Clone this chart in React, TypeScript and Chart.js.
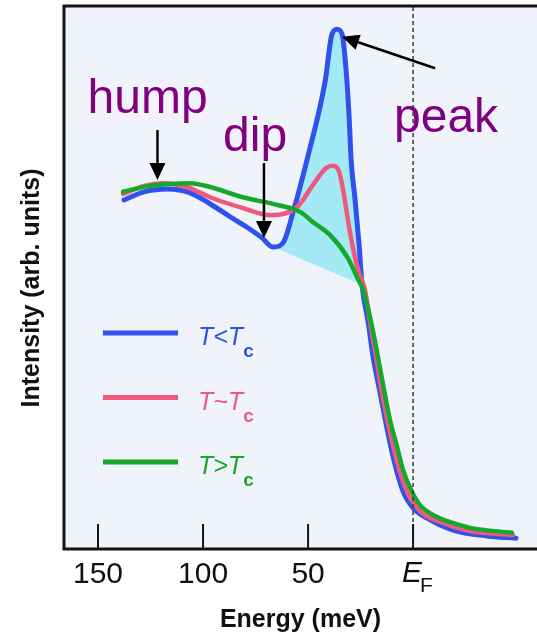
import { useEffect, useRef } from "react";
import { Chart, registerables } from "chart.js";

Chart.register(...registerables);

// Binding energy below E_F (meV) and spectral intensity (arb. units)
const energyBelowTc = [137.6, 128.1, 116.7, 106.2, 96.7, 87.1, 77.6, 71.9, 66.7, 61.9, 57.1, 50.5, 41.9, 38.6, 36.2, 33.8, 31.9, 30.5, 29.5, 27.6, 25.7, 24.3, 21.4, 19.0, 15.7, 12.9, 9.5, 4.8, 0.0, -6.7, -19.0, -35.2, -49.0];
const intensityBelowTc = [64.4, 65.9, 66.4, 65.7, 63.7, 61.3, 59.0, 57.4, 55.7, 56.5, 62.2, 71.8, 86.2, 95.0, 95.9, 95.0, 88.4, 80.1, 71.8, 64.4, 56.1, 48.7, 41.9, 35.4, 28.8, 23.2, 17.0, 10.7, 7.6, 5.7, 3.5, 2.4, 2.0];

const energyNearTc = [138.1, 128.1, 119.0, 106.2, 96.7, 81.0, 68.1, 61.9, 55.2, 47.6, 41.4, 38.1, 35.2, 33.3, 30.0, 26.2, 22.9, 20.5, 17.6, 14.8, 11.9, 8.1, 3.3, -3.3, -12.9, -27.1, -47.6];
const intensityNearTc = [65.5, 67.0, 67.5, 66.6, 64.9, 62.9, 61.6, 61.8, 63.1, 67.2, 70.3, 70.7, 69.6, 66.2, 58.3, 51.5, 47.8, 41.9, 35.4, 28.8, 23.2, 16.8, 10.9, 7.0, 5.0, 3.3, 2.6];

const energyAboveTc = [138.1, 125.2, 106.2, 96.7, 81.0, 64.8, 53.8, 47.6, 39.5, 31.4, 26.7, 23.8, 20.0, 16.7, 13.8, 11.0, 7.6, 4.8, 0.5, -3.3, -11.4, -19.0, -27.1, -47.1];
const intensityAboveTc = [65.9, 67.0, 67.5, 66.8, 64.9, 63.5, 62.2, 60.3, 57.9, 53.9, 50.2, 47.8, 41.9, 35.4, 29.3, 23.8, 18.8, 14.6, 10.5, 8.1, 5.9, 4.8, 3.9, 3.0];

// Quasiparticle weight: region under the T<Tc curve between the dip and the leading edge
const shadeFrom = 66.7;
const shadeTo = 24.3;

// Axis ticks (meV) and their labels; "_" marks a subscript
const tickValues = [150, 100, 50, 0];
const tickLabels = ["150", "100", "50", "E_F"];
const fermiEnergy = 0;

const seriesLabels = ["T<T_c", "T~T_c", "T>T_c"];

// Annotations in data units (energy, intensity)
const wordLabels = ["hump", "dip", "peak"];
const wordEnergy = [126.4, 75.2, -15.7];
const wordIntensity = [80.4, 73.4, 76.9];
const arrowFromEnergy = [121.7, 71.0, -10.5];
const arrowFromIntensity = [77.3, 71.2, 88.7];
const arrowToEnergy = [121.7, 71.0, 33.8];
const arrowToIntensity = [68.1, 57.4, 94.5];

const BLUE = "#3052ec";
const PINK = "#f0587e";
const GREEN = "#16a82a";
const SHADE = "#a4e9f6";
const PURPLE = "#800080";
const FONT = "'Liberation Sans', Arial, Helvetica, sans-serif";

const toPoints = (e: number[], v: number[]) => e.map((x, i) => ({ x, y: v[i] }));

function splitSub(text: string) {
  const i = text.indexOf("_");
  return i < 0 ? { main: text, sub: "" } : { main: text.slice(0, i), sub: text.slice(i + 1) };
}

function drawArrow(ctx: CanvasRenderingContext2D, x1: number, y1: number, x2: number, y2: number) {
  const ang = Math.atan2(y2 - y1, x2 - x1);
  const head = 17;
  const half = 8;
  const bx = x2 - head * Math.cos(ang);
  const by = y2 - head * Math.sin(ang);
  ctx.beginPath();
  ctx.moveTo(x1, y1);
  ctx.lineTo(bx, by);
  ctx.stroke();
  ctx.beginPath();
  ctx.moveTo(x2, y2);
  ctx.lineTo(bx + half * Math.sin(ang), by - half * Math.cos(ang));
  ctx.lineTo(bx - half * Math.sin(ang), by + half * Math.cos(ang));
  ctx.closePath();
  ctx.fill();
}

const decor = {
  id: "decor",
  beforeDraw(chart: any) {
    const { ctx, chartArea: a } = chart;
    ctx.save();
    ctx.fillStyle = "#ffffff";
    ctx.fillRect(0, 0, chart.width, chart.height);
    ctx.fillStyle = "#f0f4fa";
    ctx.fillRect(a.left, a.top, a.right - a.left, a.bottom - a.top);
    ctx.restore();
  },
  afterDatasetsDraw(chart: any) {
    const { ctx, chartArea: a, scales } = chart;
    const x = scales.x;
    const y = scales.y;
    ctx.save();

    // Fermi level marker
    const xf = x.getPixelForValue(fermiEnergy);
    ctx.strokeStyle = "#3a3a3a";
    ctx.lineWidth = 1.5;
    ctx.setLineDash([4, 3]);
    ctx.beginPath();
    ctx.moveTo(xf, a.top);
    ctx.lineTo(xf, a.bottom);
    ctx.stroke();
    ctx.setLineDash([]);

    // Feature labels and arrows
    ctx.fillStyle = PURPLE;
    ctx.font = `48px ${FONT}`;
    ctx.textAlign = "center";
    ctx.textBaseline = "alphabetic";
    wordLabels.forEach((w, i) => {
      ctx.fillText(w, x.getPixelForValue(wordEnergy[i]), y.getPixelForValue(wordIntensity[i]));
    });
    ctx.strokeStyle = "#000";
    ctx.fillStyle = "#000";
    ctx.lineWidth = 2.5;
    arrowFromEnergy.forEach((_, i) => {
      drawArrow(
        ctx,
        x.getPixelForValue(arrowFromEnergy[i]),
        y.getPixelForValue(arrowFromIntensity[i]),
        x.getPixelForValue(arrowToEnergy[i]),
        y.getPixelForValue(arrowToIntensity[i])
      );
    });

    // Legend
    const entries = [2, 1, 0].map((di) => chart.data.datasets[di]);
    entries.forEach((ds: any, k: number) => {
      const rowY = a.top + 326 + k * 64.5;
      ctx.strokeStyle = ds.borderColor;
      ctx.lineWidth = 5;
      ctx.beginPath();
      ctx.moveTo(a.left + 39, rowY);
      ctx.lineTo(a.left + 114, rowY);
      ctx.stroke();
      const { main, sub } = splitSub(ds.label);
      ctx.fillStyle = ds.borderColor;
      ctx.textAlign = "left";
      ctx.font = `italic 25px ${FONT}`;
      const tx = a.left + 134;
      ctx.fillText(main, tx, rowY + 12);
      const w = ctx.measureText(main).width;
      ctx.font = `bold 19px ${FONT}`;
      ctx.fillText(sub, tx + w, rowY + 24);
    });
    ctx.restore();
  },
  afterDraw(chart: any) {
    const { ctx, chartArea: a, scales } = chart;
    const x = scales.x;
    ctx.save();
    ctx.strokeStyle = "#141414";
    ctx.lineWidth = 3;
    ctx.lineCap = "square";
    ctx.beginPath();
    ctx.moveTo(chart.width + 2, a.top - 1);
    ctx.lineTo(a.left, a.top - 1);
    ctx.lineTo(a.left, a.bottom);
    ctx.lineTo(chart.width + 2, a.bottom);
    ctx.stroke();

    // Inward tick marks and labels
    ctx.lineWidth = 2;
    ctx.lineCap = "butt";
    ctx.fillStyle = "#111";
    tickValues.forEach((v, i) => {
      const px = x.getPixelForValue(v);
      ctx.beginPath();
      ctx.moveTo(px, a.bottom);
      ctx.lineTo(px, a.bottom - 25);
      ctx.stroke();
      const { main, sub } = splitSub(tickLabels[i]);
      if (!sub) {
        ctx.font = `30px ${FONT}`;
        ctx.textAlign = "center";
        ctx.fillText(main, px, a.bottom + 34);
      } else {
        ctx.font = `italic 30px ${FONT}`;
        ctx.textAlign = "left";
        const w = ctx.measureText(main).width;
        ctx.fillText(main, px - w / 2 - 1, a.bottom + 33);
        ctx.font = `21px ${FONT}`;
        ctx.fillText(sub, px + w / 2 - 3, a.bottom + 43);
      }
    });

    // Axis titles
    ctx.font = `bold 25px ${FONT}`;
    ctx.textAlign = "center";
    ctx.fillText("Energy (meV)", (a.left + a.right) / 2, a.bottom + 78);
    ctx.translate(39, a.top + 281);
    ctx.rotate(-Math.PI / 2);
    ctx.fillText("Intensity (arb. units)", 0, 0);
    ctx.restore();
  },
};

export default function App() {
  const ref = useRef<HTMLCanvasElement>(null);

  useEffect(() => {
    document.body.style.margin = "0";
    const canvas = ref.current!;
    const shaded = toPoints(energyBelowTc, intensityBelowTc).filter(
      (p) => p.x <= shadeFrom && p.x >= shadeTo
    );
    const line = (label: string, color: string, width: number, pts: { x: number; y: number }[]) => ({
      label,
      data: pts,
      borderColor: color,
      backgroundColor: color,
      borderWidth: width,
      borderCapStyle: "round" as const,
      borderJoinStyle: "round" as const,
      cubicInterpolationMode: "monotone" as const,
      pointRadius: 0,
      fill: false,
    });
    const chart = new Chart(canvas, {
      type: "line",
      data: {
        datasets: [
          line(seriesLabels[2], GREEN, 4.5, toPoints(energyAboveTc, intensityAboveTc)),
          line(seriesLabels[1], PINK, 4.5, toPoints(energyNearTc, intensityNearTc)),
          line(seriesLabels[0], BLUE, 5, toPoints(energyBelowTc, intensityBelowTc)),
          {
            label: "shade",
            data: shaded,
            borderWidth: 0,
            borderColor: "rgba(0,0,0,0)",
            backgroundColor: SHADE,
            cubicInterpolationMode: "monotone" as const,
            pointRadius: 0,
            fill: "shape",
          },
        ],
      },
      options: {
        animation: false,
        responsive: false,
        events: [],
        layout: { padding: { left: 64, top: 7, right: 0, bottom: 90 } },
        plugins: { legend: { display: false }, tooltip: { enabled: false } },
        scales: {
          x: { type: "linear", reverse: true, min: -59, max: 166.2, display: false },
          y: { type: "linear", min: 0, max: 100, display: false },
        },
      },
      plugins: [decor],
    });
    return () => chart.destroy();
  }, []);

  return <canvas ref={ref} width={537} height={639} style={{ display: "block" }} />;
}
